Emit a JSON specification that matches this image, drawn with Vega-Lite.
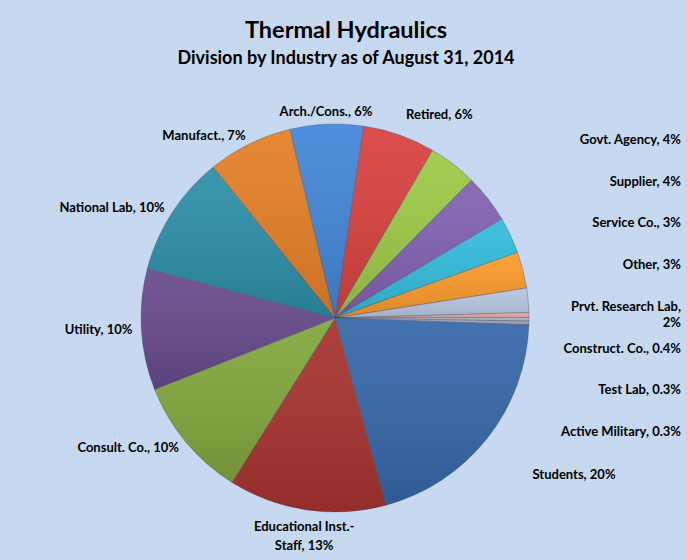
{
  "$schema": "https://vega.github.io/schema/vega-lite/v6.json",
  "width": 670,
  "height": 484,
  "autosize": {"type": "none"},
  "padding": {"left": 0, "top": 76, "right": 17, "bottom": 0},
  "background": "#c6d9f0",
  "view": {"stroke": null},
  "config": {"font": "Lato", "text": {"font": "Lato"}},
  "title": {
    "text": "Thermal Hydraulics",
    "subtitle": "Division by Industry as of August 31, 2014",
    "anchor": "middle",
    "dx": 11,
    "offset": -8,
    "font": "Lato",
    "fontSize": 23.5,
    "fontWeight": "bold",
    "color": "#000000",
    "subtitleFont": "Lato",
    "subtitleFontSize": 18,
    "subtitleFontWeight": "bold",
    "subtitleColor": "#000000",
    "subtitlePadding": 8
  },
  "data": {
    "values": [
      {"order": 1, "name": "Retired", "value": 6, "label": "Retired, 6%"},
      {"order": 2, "name": "Govt. Agency", "value": 4, "label": "Govt. Agency, 4%"},
      {"order": 3, "name": "Supplier", "value": 4, "label": "Supplier, 4%"},
      {"order": 4, "name": "Service Co.", "value": 3, "label": "Service Co., 3%"},
      {"order": 5, "name": "Other", "value": 3, "label": "Other, 3%"},
      {"order": 6, "name": "Prvt. Research Lab", "value": 2, "label": "Prvt. Research Lab,\n2%"},
      {"order": 7, "name": "Construct. Co.", "value": 0.4, "label": "Construct. Co., 0.4%"},
      {"order": 8, "name": "Test Lab", "value": 0.3, "label": "Test Lab, 0.3%"},
      {"order": 9, "name": "Active Military", "value": 0.3, "label": "Active Military, 0.3%"},
      {"order": 10, "name": "Students", "value": 20, "label": "Students, 20%"},
      {"order": 11, "name": "Educational Inst.-Staff", "value": 13, "label": "Educational Inst.-\nStaff, 13%"},
      {"order": 12, "name": "Consult. Co.", "value": 10, "label": "Consult. Co., 10%"},
      {"order": 13, "name": "Utility", "value": 10, "label": "Utility, 10%"},
      {"order": 14, "name": "National Lab", "value": 10, "label": "National Lab, 10%"},
      {"order": 15, "name": "Manufact.", "value": 7, "label": "Manufact., 7%"},
      {"order": 16, "name": "Arch./Cons.", "value": 6, "label": "Arch./Cons., 6%"}
    ]
  },
  "encoding": {
    "theta": {"field": "value", "type": "quantitative", "stack": true, "scale": {"range": [0.1466, 6.4298]}},
    "order": {"field": "order", "type": "quantitative"}
  },
  "layer": [
    {
      "mark": {"type": "arc", "outerRadius": 194, "stroke": "#3d4d66", "strokeOpacity": 0.45, "strokeWidth": 0.8},
      "encoding": {
        "color": {
          "field": "name",
          "type": "nominal",
          "legend": null,
          "scale": {
            "domain": ["Retired", "Govt. Agency", "Supplier", "Service Co.", "Other", "Prvt. Research Lab", "Construct. Co.", "Test Lab", "Active Military", "Students", "Educational Inst.-Staff", "Consult. Co.", "Utility", "National Lab", "Manufact.", "Arch./Cons."],
            "range": ["#d8413f", "#9cca48", "#8360b0", "#33bcdc", "#fa9a2c", "#b7c6e0", "#e3a8a5", "#aeb8c3", "#a9a6c2", "#3567a8", "#a6332f", "#83a63d", "#674a8c", "#2c8ea7", "#e47f26", "#4286d8"]
          }
        }
      }
    },
    {
      "mark": {
        "type": "arc",
        "outerRadius": 194,
        "strokeWidth": 0,
        "fill": {
          "gradient": "linear",
          "x1": 0, "y1": 0, "x2": 0, "y2": 1,
          "stops": [
            {"offset": 0, "color": "rgba(255,255,255,0.07)"},
            {"offset": 1, "color": "rgba(0,0,0,0.12)"}
          ]
        }
      },
      "encoding": {}
    },
    {
      "mark": {"type": "text", "radius": 203, "align": "right", "baseline": "middle", "fontSize": 13, "fontWeight": "bold", "color": "#000000"},
      "encoding": {
        "text": {"condition": {"test": "indexof(['Manufact.','National Lab','Utility','Consult. Co.'], datum.name) >= 0", "field": "label"}, "value": ""}
      }
    },
    {
      "mark": {"type": "text", "radius": 206, "align": "center", "baseline": "middle", "fontSize": 13, "fontWeight": "bold", "color": "#000000"},
      "encoding": {
        "text": {"condition": {"test": "datum.name == 'Arch./Cons.'", "field": "label"}, "value": ""}
      }
    },
    {
      "mark": {"type": "text", "radius": 211, "align": "center", "baseline": "middle", "lineBreak": "\n", "lineHeight": 19, "fontSize": 13, "fontWeight": "bold", "color": "#000000"},
      "encoding": {
        "text": {"condition": {"test": "datum.name == 'Educational Inst.-Staff'", "field": "label"}, "value": ""}
      }
    },
    {
      "mark": {"type": "text", "radius": 215, "align": "left", "baseline": "middle", "fontSize": 13, "fontWeight": "bold", "color": "#000000"},
      "encoding": {
        "text": {"condition": {"test": "datum.name == 'Retired'", "field": "label"}, "value": ""}
      }
    },
    {
      "mark": {"type": "text", "radius": 252, "align": "left", "baseline": "middle", "fontSize": 13, "fontWeight": "bold", "color": "#000000"},
      "encoding": {
        "text": {"condition": {"test": "datum.name == 'Students'", "field": "label"}, "value": ""}
      }
    },
    {
      "transform": [{"filter": "datum.order >= 2 && datum.order <= 9"}],
      "mark": {"type": "text", "align": "right", "baseline": "middle", "dx": 11, "lineBreak": "\n", "lineHeight": 16, "fontSize": 13, "fontWeight": "bold", "color": "#000000"},
      "encoding": {
        "theta": null,
        "order": null,
        "x": {"value": "width"},
        "y": {"field": "name", "type": "ordinal", "sort": {"field": "order"}, "axis": null, "scale": {"type": "point", "range": [64, 356], "padding": 0}},
        "text": {"field": "label"}
      }
    }
  ]
}
